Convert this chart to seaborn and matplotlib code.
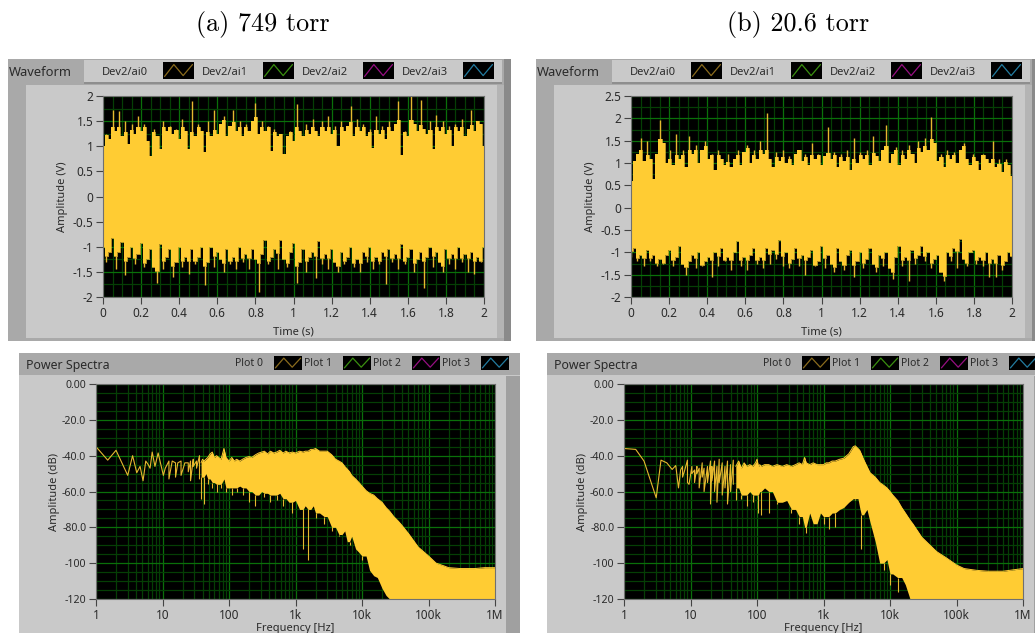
import numpy as np
import seaborn as sns
import matplotlib
matplotlib.use('Agg')
import matplotlib.pyplot as plt
from matplotlib.lines import Line2D
from matplotlib.patches import Rectangle
from matplotlib.ticker import FixedLocator, NullFormatter

# Waveform envelopes (V), evenly spread over 0-2 s
wave_a_top = [1.0, 1.25, 1.15, 1.72, 1.3, 1.7, 1.2, 1.5, 1.05, 1.45, 1.25, 1.6, 1.3, 1.45, 1.1, 0.8, 1.35, 1.2, 0.95, 1.5,
              1.3, 1.4, 1.25, 1.35, 1.15, 1.55, 1.3, 0.95, 1.9, 1.2, 1.45, 1.3, 0.88, 1.5, 1.2, 1.73, 1.25, 1.45, 1.6, 1.2,
              1.4, 1.73, 1.3, 1.5, 1.2, 1.45, 1.3, 1.5, 1.87, 1.25, 1.5, 1.3, 1.4, 0.9, 1.35, 1.2, 1.25, 0.85, 1.2, 1.3,
              1.1, 1.85, 1.3, 1.2, 1.45, 1.25, 1.55, 1.3, 1.2, 1.5, 1.3, 1.6, 1.25, 1.4, 1.0, 1.5, 1.3, 1.4, 1.81, 1.2,
              1.55, 1.3, 1.45, 1.2, 1.35, 0.97, 1.6, 1.25, 1.4, 1.15, 1.5, 1.3, 1.45, 1.9, 0.82, 1.3, 1.2, 2.0, 1.45, 1.3,
              1.93, 1.35, 1.25, 1.5, 0.95, 1.63, 1.3, 1.5, 1.25, 1.4, 1.0, 1.45, 1.3, 1.55, 1.2, 1.35, 1.72, 1.3, 1.5, 1.45, 1.0]
wave_a_bot = [-1.0, -1.3, -1.1, -0.83, -1.45, -1.1, -0.9, -1.57, -1.2, -1.0, -1.35, -1.15, -0.93, -1.4, -1.25, -1.05, -1.4, -1.73, -0.95, -1.45,
              -1.2, -1.05, -1.6, -1.3, -1.0, -1.4, -1.2, -1.55, -1.05, -1.35, -1.2, -1.0, -1.77, -1.3, -1.0, -1.4, -1.1, -1.25, -1.5, -1.05,
              -1.35, -1.2, -1.45, -1.0, -1.3, -1.15, -1.45, -1.05, -1.25, -1.91, -1.15, -0.87, -1.35, -1.2, -1.05, -1.45, -0.87, -1.25, -1.4, -1.1,
              -0.93, -1.73, -1.3, -1.05, -1.5, -1.2, -1.1, -1.63, -0.88, -1.35, -1.15, -1.45, -1.05, -1.3, -1.5, -1.1, -1.35, -1.2, -1.0, -1.4,
              -1.25, -1.5, -1.1, -1.3, -1.0, -1.45, -1.2, -1.35, -1.1, -1.75, -1.05, -1.3, -1.15, -1.45, -0.95, -1.35, -1.2, -1.05, -1.5, -1.25,
              -1.1, -1.82, -1.2, -1.0, -1.4, -1.1, -1.3, -1.5, -1.05, -1.35, -1.15, -1.45, -1.0, -1.3, -1.15, -1.5, -1.1, -1.55, -1.2, -1.3, -1.0]
wave_b_top = [0.6, 1.05, 1.2, 1.55, 1.05, 1.5, 1.1, 0.65, 1.2, 1.97, 1.45, 1.0, 1.3, 0.95, 1.65, 1.1, 1.3, 0.9, 1.6, 1.2,
              1.4, 1.0, 1.3, 1.5, 1.1, 1.2, 0.85, 1.3, 1.1, 0.95, 1.2, 0.9, 1.1, 1.3, 0.95, 1.25, 1.4, 1.0, 1.3, 1.1,
              1.5, 1.2, 2.13, 1.1, 0.9, 1.25, 1.05, 1.3, 1.0, 1.15, 0.95, 1.2, 1.3, 1.05, 1.2, 0.95, 1.45, 1.1, 1.2, 0.95,
              1.15, 1.8, 1.1, 1.25, 0.9, 1.2, 1.05, 1.3, 0.85, 1.55, 1.0, 1.25, 1.1, 1.3, 0.95, 1.6, 1.15, 1.05, 1.3, 1.85,
              1.0, 1.2, 1.35, 0.95, 1.3, 1.1, 1.4, 1.2, 1.0, 1.5, 1.25, 1.55, 1.3, 2.03, 1.45, 1.05, 1.2, 0.9, 1.3, 1.1,
              1.25, 1.0, 1.3, 1.45, 1.1, 0.95, 1.2, 1.05, 0.85, 1.2, 1.1, 1.0, 1.5, 0.9, 1.1, 0.8, 1.1, 0.95, 0.7]
wave_b_bot = [-1.1, -0.9, -1.2, -1.05, -1.3, -0.95, -1.2, -1.05, -1.3, -1.15, -1.25, -1.05, -0.95, -1.3, -1.1, -0.85, -1.25, -1.5, -1.2, -1.05,
              -1.35, -1.0, -1.3, -1.2, -1.1, -1.55, -1.0, -1.3, -0.9, -1.2, -1.1, -1.4, -1.0, -0.75, -1.3, -1.1, -1.4, -1.05, -0.9, -1.25,
              -1.1, -1.35, -0.9, -1.25, -0.95, -1.15, -0.72, -1.3, -1.0, -1.35, -1.15, -0.9, -1.3, -1.05, -1.5, -1.1, -0.95, -1.3, -1.2, -0.85,
              -1.35, -1.05, -1.25, -1.45, -0.9, -1.2, -1.4, -1.05, -0.95, -1.55, -1.2, -1.0, -1.35, -1.15, -0.9, -1.25, -1.45, -1.05, -1.3, -1.0,
              -1.35, -1.6, -1.1, -0.85, -1.3, -1.1, -1.65, -0.95, -1.25, -1.05, -0.85, -1.2, -1.0, -1.35, -1.15, -1.05, -1.45, -1.65, -1.0, -1.2,
              -0.9, -1.35, -0.7, -1.15, -1.3, -1.0, -0.95, -1.25, -1.1, -1.3, -1.0, -1.55, -1.15, -1.55, -1.05, -1.4, -1.2, -1.0, -1.1]

# Power spectrum (a): frequency in Hz, upper and lower edge in dB
spec_a_freq = [1, 1.5, 2, 3, 3.55, 4.1, 4.6, 5.1, 5.6, 6.1, 6.5, 7, 7.7, 8.6, 10.3, 11, 12.5, 14, 15.7, 17,
               19, 21.7, 24.4, 26.4, 29, 32.5, 36, 38, 40, 42, 45, 48, 52, 56, 60, 65, 70, 76, 84, 90,
               100, 110, 120, 130, 145, 160, 180, 200, 220, 250, 280, 310, 340, 380, 420, 470, 520, 580, 650, 720,
               800, 900, 1000, 1150, 1300, 1400, 1550, 1700, 1850, 2000, 2300, 2700, 3000, 3500, 4000, 4500, 5000, 5500, 6000, 6500,
               7000, 8000, 9000, 10000, 11500, 13000, 15000, 17000, 20000, 23000, 26000, 30000, 35000, 40000, 50000, 70000, 100000, 130000, 170000, 200000,
               300000, 500000, 700000, 1000000]
spec_a_top = [-35, -42.5, -37, -51, -40, -49.5, -46, -54, -43, -45, -47, -38, -46, -38.5, -51, -47, -43, -43, -44, -44,
              -43, -44, -44, -43, -42, -43, -40, -44, -42, -43, -42, -41, -39, -38, -41, -40, -41, -42, -36, -41,
              -43, -41, -43, -42, -43, -42, -41, -40.5, -41, -39.5, -38.5, -38, -37.5, -39, -37.5, -38.5, -38, -37, -38.5, -37.5,
              -38.5, -38, -38.5, -37.5, -38, -37.5, -37.5, -36.5, -36.5, -36, -37.5, -37.5, -37.5, -39.5, -42, -43, -44, -46, -47.5, -49,
              -51, -53, -55, -57, -59.5, -61, -62, -64, -66, -69, -71, -74, -76.5, -79, -83.5, -91, -96, -100, -101.5, -102.5,
              -103, -103, -102.5, -102.5]
spec_a_bot = [-35, -42.5, -37, -51, -40, -49.5, -46, -54, -43, -45, -47, -38, -46, -38.5, -51, -47, -53, -43, -52, -44,
              -51, -44, -49, -54, -46, -47, -53, -64, -52, -67, -50, -56, -53, -58, -55, -60, -56, -58, -53, -60,
              -58, -62, -58, -60, -57, -62, -58, -66, -60, -68, -62, -60, -63, -61, -66, -62, -65, -61, -68, -64,
              -66, -72, -65, -70, -92, -68, -98, -70, -68, -75, -72, -78, -74, -82, -80, -85, -84, -82, -88, -90,
              -85, -92, -94, -98, -96, -104, -107, -108, -114, -118, -120, -120, -120, -120, -120, -120, -120, -120, -120, -120,
              -120, -120, -120, -120]

# Power spectrum (b)
spec_b_freq = [1, 1.5, 2, 3.05, 3.6, 4.4, 5.3, 6, 6.6, 7.1, 7.6, 8.2, 9, 9.5, 10.5, 11.5, 12.5, 13.5, 15, 16,
               18, 20, 21, 23, 25, 27, 30, 33, 36, 40, 44, 48, 53, 58, 64, 70, 78, 86, 95, 100,
               105, 110, 115, 130, 150, 170, 200, 240, 280, 330, 380, 430, 480, 520, 550, 620, 700, 800, 900, 1000,
               1100, 1200, 1350, 1500, 1750, 2000, 2400, 2800, 3000, 3300, 3500, 3700, 4000, 4500, 5000, 6000, 7000, 8000, 9000, 10000,
               11000, 13000, 15000, 17000, 20000, 22000, 30000, 50000, 70000, 100000, 130000, 200000, 300000, 500000, 1000000]
spec_b_top = [-36, -36.5, -43, -63.5, -42.5, -44, -47.7, -45.5, -58, -48, -46, -48, -42.5, -56, -46, -48, -46, -47, -44, -47,
              -46, -43, -46, -43, -46, -42, -44, -46, -43, -45, -42.5, -46, -43, -47, -44, -46, -45, -46, -44, -42,
              -46, -45, -46, -45, -45, -46, -45, -46, -45, -46, -45, -44, -45, -41, -44, -45, -44, -45, -45, -45,
              -44, -44, -43, -43, -42, -41.5, -39, -35, -34.5, -36, -37, -39, -42, -46, -49.5, -52, -55, -56.5, -58, -60,
              -62, -65, -69, -72, -76, -78, -85.5, -93.5, -97, -101, -103, -104, -104.5, -104.5, -103]
spec_b_bot = [-36, -36.5, -43, -63.5, -42.5, -44, -47.7, -45.5, -58, -48, -52, -48, -55, -56, -50, -55, -50, -58, -52, -60,
              -55, -67, -54, -60, -66, -55, -62, -58, -67, -60, -56, -65, -58, -64, -62, -68, -60, -66, -62, -62,
              -72, -60, -73, -58, -72, -60, -67, -66, -65, -72, -70, -78, -74, -80, -83, -72, -78, -78, -72, -78,
              -74, -81, -72, -80, -70, -69, -66, -64, -65, -64, -69, -92, -73, -70, -77, -88, -100, -104, -98, -112,
              -106, -116, -108, -112, -120, -120, -120, -120, -120, -120, -120, -120, -120, -120, -120]

wave_x_ticks = [0, 0.2, 0.4, 0.6, 0.8, 1, 1.2, 1.4, 1.6, 1.8, 2]
wave_x_labels = ['0', '0.2', '0.4', '0.6', '0.8', '1', '1.2', '1.4', '1.6', '1.8', '2']
wave_a_y_ticks = [-2, -1.5, -1, -0.5, 0, 0.5, 1, 1.5, 2]
wave_a_y_labels = ['-2', '-1.5', '-1', '-0.5', '0', '0.5', '1', '1.5', '2']
wave_b_y_ticks = [-2, -1.5, -1, -0.5, 0, 0.5, 1, 1.5, 2, 2.5]
wave_b_y_labels = ['-2', '-1.5', '-1', '-0.5', '0', '0.5', '1', '1.5', '2', '2.5']
spec_x_ticks = [1, 10, 100, 1000, 10000, 100000, 1000000]
spec_x_labels = ['1', '10', '100', '1k', '10k', '100k', '1M']
spec_y_ticks = [0, -20, -40, -60, -80, -100, -120]
spec_y_labels = ['0.00', '-20.0', '-40.0', '-60.0', '-80.0', '-100', '-120']
wave_legend = ['Dev2/ai0', 'Dev2/ai1', 'Dev2/ai2', 'Dev2/ai3']
spec_legend = ['Plot 0', 'Plot 1', 'Plot 2', 'Plot 3']

W, H = 1035, 633
GOLD = '#FFCC33'
SPIKE = '#E6B82F'
PANEL = '#C9C9C9'
DARK_PANEL = '#A9A9A9'
SWATCH_COLORS = ['#8A6B1D', '#3A8F10', '#960F82', '#237CA0']
TEXT = '#2A2A2A'

sns.set_theme(style='ticks')
plt.rcParams['font.family'] = ['Noto Sans', 'DejaVu Sans']

fig = plt.figure(figsize=(W / 100, H / 100), dpi=100, facecolor='white')


def caixa(x0, y0, x1, y1, cor):
    # rectangle given in picture pixels
    fig.add_artist(Rectangle((x0 / W, 1 - y1 / H), (x1 - x0) / W, (y1 - y0) / H, transform=fig.transFigure,
                             facecolor=cor, edgecolor='none', zorder=-2))


def texto(x, y, s, size, ha='center'):
    fig.text(x / W, 1 - y / H, s, fontsize=size, ha=ha, va='center_baseline', color=TEXT)


def amostra(x0, y0, x1, y1, cor):
    # black legend swatch with its zigzag
    caixa(x0, y0, x1, y1, 'black')
    w, h = x1 - x0, y1 - y0
    xs = [x0 + w * f for f in (0.05, 0.35, 0.65, 0.95)]
    ys = [y1 - h * f for f in (0.15, 0.85, 0.2, 0.85)]
    fig.add_artist(Line2D([x / W for x in xs], [1 - y / H for y in ys], color=cor, lw=0.9,
                          transform=fig.transFigure, zorder=-1))


def eixo_plot(x0, y0, x1, y1):
    ax = fig.add_axes([x0 / W, 1 - y1 / H, (x1 - x0) / W, (y1 - y0) / H], facecolor='black')
    ax.set_axisbelow(True)
    for lado in ax.spines.values():
        lado.set_color('#707070')
        lado.set_linewidth(0.8)
    ax.tick_params(which='major', length=5, width=0.8, color='#444444', labelsize=8.5, labelcolor=TEXT, pad=2)
    ax.tick_params(which='minor', length=0)
    return ax


def grade(ax):
    ax.grid(which='major', color='#0A700A', lw=0.9)
    ax.grid(which='minor', color='#053F05', lw=0.9)


def nucleo(valores, sinal, folga):
    # trims the isolated peaks so that they can be drawn as thin spikes
    v = sinal * np.array(valores, dtype=float)
    viz = np.maximum(np.roll(v, 1), np.roll(v, -1))
    viz[0], viz[-1] = v[1], v[-2]
    return sinal * np.minimum(v, viz + folga)


def metade_onda(ax, t, valores, sinal):
    corpo = nucleo(valores, sinal, 0.08)
    ax.fill_between(t, -0.05 * sinal, corpo, color=GOLD, lw=0, step='mid')
    ax.vlines(t, corpo, valores, color=SPIKE, lw=1.0)
    sns.lineplot(x=t, y=corpo, ax=ax, color=GOLD, lw=0.5, estimator=None, sort=False, legend=False,
                 drawstyle='steps-mid')


def waveform(offset, top, bot, y_lim, y_ticks, y_labels):
    # grey frame, legend strip and the plot itself
    caixa(offset + 8, 59, offset + 511, 341, DARK_PANEL)
    caixa(offset + 84, 60, offset + 502, 82, PANEL)
    caixa(offset + 84, 82, offset + 502, 83.5, '#8E8E8E')
    caixa(offset + 26, 85, offset + 497, 338, PANEL)
    caixa(offset + 497, 85, offset + 504, 338, '#B4B4B4')
    caixa(offset + 504, 59, offset + 511, 341, '#8A8A8A')
    texto(offset + 9, 71, 'Waveform', 9.3, ha='left')
    for i, nome in enumerate(wave_legend):
        texto(offset + 125 + 100 * i, 71, nome, 8)
        amostra(offset + 163 + 100 * i, 62, offset + 194 + 100 * i, 79, SWATCH_COLORS[i])

    ax = eixo_plot(offset + 103, 96, offset + 484, 297)
    metade_onda(ax, np.linspace(0, 2, len(top)), top, 1)
    metade_onda(ax, np.linspace(0, 2, len(bot)), bot, -1)
    ax.set_xlim(0, 2)
    ax.set_ylim(*y_lim)
    ax.set_xticks(wave_x_ticks, wave_x_labels)
    ax.set_yticks(y_ticks, y_labels)
    ax.xaxis.set_minor_locator(FixedLocator(np.arange(0, 2.01, 0.05)))
    ax.yaxis.set_minor_locator(FixedLocator(np.arange(y_lim[0], y_lim[1] + 0.01, 0.25)))
    grade(ax)
    ax.set_xlabel('Time (s)', fontsize=8, color=TEXT, labelpad=5)
    ax.set_ylabel('Amplitude (V)', fontsize=8, color=TEXT)
    ax.yaxis.set_label_coords(-0.092, 0.5)


def spectrum(offset, freq, top, bot, solido):
    caixa(offset + 19, 353, offset + 520, 633, PANEL)
    caixa(offset + 19, 353, offset + 520, 375, DARK_PANEL)
    caixa(offset + 506, 376, offset + 520, 633, '#A0A0A0')
    texto(offset + 26, 364, 'Power Spectra', 8.9, ha='left')
    for i, nome in enumerate(spec_legend):
        texto(offset + 249 + 69 * i, 362, nome, 7.5)
        amostra(offset + 274 + 69 * i, 356, offset + 302 + 69 * i, 370, SWATCH_COLORS[i])

    ax = eixo_plot(offset + 96, 384, offset + 495, 599)
    ax.set_xscale('log')
    f, t, b = np.array(freq, dtype=float), np.array(top, dtype=float), np.array(bot, dtype=float)
    # below "solido" Hz the trace is still single lines, above it a filled band
    baixo = f <= solido
    x_baixo = np.repeat(f[baixo], 2)
    y_baixo = np.column_stack([t[baixo], b[baixo]]).ravel()
    sns.lineplot(x=x_baixo, y=y_baixo, ax=ax, color=SPIKE, lw=0.8, estimator=None, sort=False, legend=False)
    alto = ~baixo
    corpo = nucleo(b[alto], -1, 0)
    ax.fill_between(f[alto], corpo, t[alto], color=GOLD, lw=0)
    ax.vlines(f[alto], b[alto], corpo, color=SPIKE, lw=0.8)
    sns.lineplot(x=f[alto], y=t[alto], ax=ax, color=GOLD, lw=0.7, estimator=None, sort=False, legend=False)
    ax.set_xlim(1, 1000000)
    ax.set_ylim(-120, 0)
    ax.set_xticks(spec_x_ticks, spec_x_labels)
    ax.set_yticks(spec_y_ticks, spec_y_labels)
    ax.tick_params(axis='y', labelsize=7.6)
    menores = [d * m for d in spec_x_ticks[:-1] for m in range(2, 10)]
    ax.xaxis.set_minor_locator(FixedLocator(menores))
    ax.xaxis.set_minor_formatter(NullFormatter())
    ax.yaxis.set_minor_locator(FixedLocator(np.arange(-120, 1, 5)))
    grade(ax)
    ax.set_xlabel('Frequency [Hz]', fontsize=8, color=TEXT, labelpad=1)
    ax.set_ylabel('Amplitude (dB)', fontsize=8, color=TEXT)
    ax.yaxis.set_label_coords(-0.09, 0.5)


def main():
    fig.text(263 / W, 1 - 24 / H, '(a) 749 torr', fontsize=18.8, family='cmr10', ha='center', va='center', color='black')
    fig.text(798 / W, 1 - 24 / H, '(b) 20.6 torr', fontsize=18.8, family='cmr10', ha='center', va='center', color='black')

    waveform(0, wave_a_top, wave_a_bot, (-2, 2), wave_a_y_ticks, wave_a_y_labels)
    waveform(528, wave_b_top, wave_b_bot, (-2, 2.5), wave_b_y_ticks, wave_b_y_labels)
    spectrum(0, spec_a_freq, spec_a_top, spec_a_bot, 36)
    spectrum(528, spec_b_freq, spec_b_top, spec_b_bot, 44)

    fig.savefig('out.png', dpi=100)


if __name__ == '__main__':
    main()
